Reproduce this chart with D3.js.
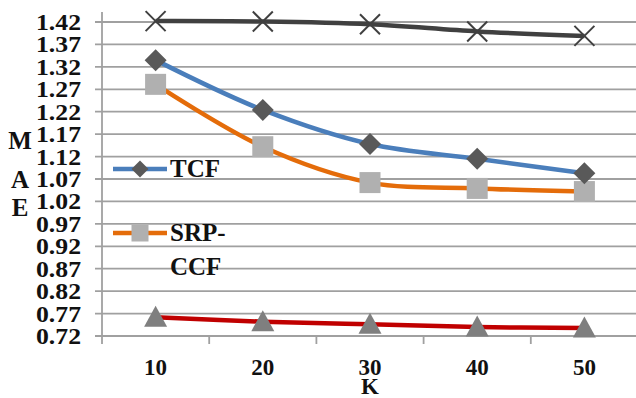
<!DOCTYPE html>
<html>
<head>
<meta charset="utf-8">
<script src="https://cdn.jsdelivr.net/npm/d3@7"></script>
<style>
  html, body { margin: 0; padding: 0; background: #fff; }
</style>
</head>
<body>
<div id="chart"></div>
<script>
(function() {
  var categories = ['10', '20', '30', '40', '50'];
  var yTicks = [0.72, 0.77, 0.82, 0.87, 0.92, 0.97, 1.02, 1.07, 1.12, 1.17, 1.22, 1.27, 1.32, 1.37, 1.42];
  var topValues = [1.422, 1.421, 1.415, 1.399, 1.389];
  var tcfValues = [1.335, 1.224, 1.148, 1.115, 1.083];
  var srpValues = [1.281, 1.142, 1.062, 1.049, 1.042];
  var bottomValues = [0.762, 0.752, 0.746, 0.740, 0.738];

  var width = 636, height = 398;
  var svg, x, y, line, series, grid, g, i, s, legend, label;

  svg = d3.select('#chart').append('svg').attr('width', width).attr('height', height);

  x = d3.scaleBand().domain(categories).range([102, 638]);
  y = d3.scaleLinear().domain([0.72, 1.42]).range([336, 22]);

  label = function(sel, size) {
    return sel.style('font-family', '"Liberation Serif", serif').style('font-weight', 'bold')
      .style('font-size', size + 'px').style('fill', '#111');
  };

  // gridlines
  grid = svg.append('g').attr('class', 'grid');
  grid.selectAll('line').data(yTicks).enter().append('line')
    .attr('x1', 95).attr('x2', width)
    .attr('y1', function(d) { return y(d); })
    .attr('y2', function(d) { return y(d); })
    .style('stroke', '#a0a0a0').style('stroke-width', 1.8);

  // y axis line
  svg.append('line').attr('x1', 102).attr('x2', 102).attr('y1', 12).attr('y2', 344)
    .style('stroke', '#a0a0a0').style('stroke-width', 1.8);

  // x axis ticks at band boundaries
  svg.append('g').selectAll('line').data(categories.slice(1)).enter().append('line')
    .attr('x1', function(d) { return x(d); })
    .attr('x2', function(d) { return x(d); })
    .attr('y1', 336).attr('y2', 344)
    .style('stroke', '#a0a0a0').style('stroke-width', 1.8);

  // y tick labels
  label(svg.append('g').selectAll('text').data(yTicks).enter().append('text')
    .attr('x', 81).attr('y', function(d) { return y(d) + 8; })
    .attr('text-anchor', 'end'), 23)
    .attr('textLength', 45).attr('lengthAdjust', 'spacingAndGlyphs')
    .text(function(d) { return d.toFixed(2); });

  // x tick labels
  label(svg.append('g').selectAll('text').data(categories).enter().append('text')
    .attr('x', function(d) { return x(d) + x.bandwidth() / 2; })
    .attr('y', 375)
    .attr('text-anchor', 'middle'), 23)
    .text(function(d) { return d; });

  label(svg.append('text').attr('x', 370).attr('y', 394).attr('text-anchor', 'middle'), 23).text('K');

  // y axis title, stacked letters
  [['M', 149], ['A', 188], ['E', 216]].forEach(function(p) {
    label(svg.append('text').attr('x', 20).attr('y', p[1]).attr('text-anchor', 'middle'), 25).text(p[0]);
  });

  line = d3.line()
    .x(function(d, i) { return x(categories[i]) + x.bandwidth() / 2; })
    .y(function(d) { return y(d); })
    .curve(d3.curveCatmullRom.alpha(0.5));

  var drawMarker = function(sel, kind, size, fill) {
    var h = size / 2;
    if (kind === 'diamond') {
      sel.append('path').attr('d', 'M0,' + (-h) + 'L' + h + ',0L0,' + h + 'L' + (-h) + ',0Z').style('fill', fill);
    } else if (kind === 'square') {
      sel.append('rect').attr('x', -h).attr('y', -h).attr('width', size).attr('height', size).style('fill', fill);
    } else if (kind === 'triangle') {
      sel.append('path').attr('d', 'M0,' + (-h - 1) + 'L' + (h + 1) + ',' + (h - 1) + 'L' + (-h - 1) + ',' + (h - 1) + 'Z').style('fill', fill);
    } else if (kind === 'cross') {
      sel.append('path').attr('d', 'M' + (-h) + ',' + (-h) + 'L' + h + ',' + h + 'M' + h + ',' + (-h) + 'L' + (-h) + ',' + h)
        .style('stroke', fill).style('stroke-width', 2).style('fill', 'none');
    }
  };

  series = [
    { name: 'Series 4', values: bottomValues, color: '#c00000', marker: 'triangle', size: 21, markerColor: '#7f7f7f' },
    { name: 'SRP-CCF', values: srpValues, color: '#e46c0a', marker: 'square', size: 21, markerColor: '#b0b0b0' },
    { name: 'TCF', values: tcfValues, color: '#4a7ebb', marker: 'diamond', size: 22, markerColor: '#595959' },
    { name: 'Series 1', values: topValues, color: '#404040', marker: 'cross', size: 20, markerColor: '#404040' }
  ];

  for (i = 0; i < series.length; i++) {
    s = series[i];
    g = svg.append('g').attr('class', 'series');
    g.append('path').datum(s.values).attr('d', line)
      .style('fill', 'none').style('stroke', s.color).style('stroke-width', 4.5)
      .style('stroke-linejoin', 'round');
    g.selectAll('g.marker').data(s.values).enter().append('g').attr('class', 'marker')
      .attr('transform', function(d, j) { return 'translate(' + (x(categories[j]) + x.bandwidth() / 2) + ',' + y(d) + ')'; })
      .each(function() { drawMarker(d3.select(this), s.marker, s.size, s.markerColor); });
  }

  // legend (only two entries visible in the original)
  legend = svg.append('g').attr('class', 'legend');
  [
    { s: series[2], y: 169, lines: ['TCF'] },
    { s: series[1], y: 233, lines: ['SRP-', 'CCF'] }
  ].forEach(function(item) {
    var lg = legend.append('g');
    lg.append('line').attr('x1', 113).attr('x2', 167).attr('y1', item.y).attr('y2', item.y)
      .style('stroke', item.s.color).style('stroke-width', 4.5);
    drawMarker(lg.append('g').attr('transform', 'translate(140,' + item.y + ')'), item.s.marker, 17, item.s.markerColor);
    item.lines.forEach(function(t, k) {
      label(lg.append('text').attr('x', 170).attr('y', item.y + 8 + k * 34), 25).text(t);
    });
  });
})();
</script>
</body>
</html>
